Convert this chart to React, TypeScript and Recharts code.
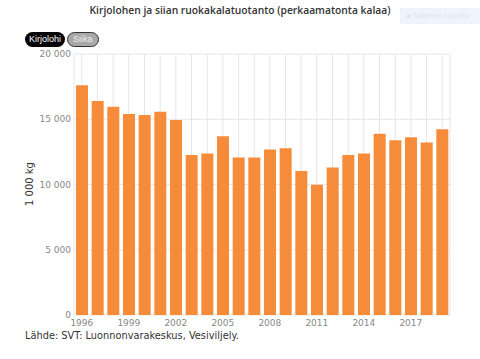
import React from 'react';
import { BarChart, Bar, XAxis, YAxis, CartesianGrid } from 'recharts';

const years = [
  '1996', '1997', '1998', '1999', '2000', '2001', '2002', '2003',
  '2004', '2005', '2006', '2007', '2008', '2009', '2010', '2011',
  '2012', '2013', '2014', '2015', '2016', '2017', '2018', '2019',
];

// Kirjolohi, 1 000 kg
const kirjolohi = [
  17600, 16400, 15950, 15400, 15330, 15580, 14950, 12260,
  12380, 13700, 12070, 12070, 12680, 12780, 11040, 9990,
  11310, 12260, 12380, 13880, 13400, 13630, 13220, 14240,
];

const yTicks = [0, 5000, 10000, 15000, 20000];

const data = years.map((year, i) => ({ year, kirjolohi: kirjolohi[i] }));

const formatNumber = (value: number) =>
  String(value).replace(/\B(?=(\d{3})+(?!\d))/g, ' ');

const font = '"DejaVu Sans", Verdana, sans-serif';

export default function App() {
  return (
    <div style={{ position: 'absolute', left: 0, top: 0, width: 480, height: 359, background: '#fff', fontFamily: font }}>
      {/* otsikko */}
      <div style={{ position: 'absolute', top: 3, left: 0, width: 480, textAlign: 'center', fontFamily: '"Open Sans", sans-serif', fontWeight: 600, fontSize: 10.3, color: '#333' }}>
        Kirjolohen ja siian ruokakalatuotanto (perkaamatonta kalaa)
      </div>

      {/* haalea painike oikealla ylhäällä */}
      <div style={{ position: 'absolute', top: 8, left: 400, width: 80, height: 16, background: '#eef4fb', color: '#dbe6f2', fontSize: 7, lineHeight: '16px', paddingLeft: 6, boxSizing: 'border-box', whiteSpace: 'nowrap', overflow: 'hidden' }}>
        ▪ Tallenna kuvana
      </div>

      {/* sarjavalinta */}
      <div style={{ position: 'absolute', top: 32, left: 25, display: 'flex', alignItems: 'center' }}>
        <div style={{ background: '#000', color: '#fff', fontSize: 9, height: 15, lineHeight: '15px', padding: '0 4px', borderRadius: 8, fontFamily: '"Liberation Sans", Arial, sans-serif' }}>
          Kirjolohi
        </div>
        <div style={{ background: '#a8a8a8', color: '#eee', fontSize: 9, height: 13, lineHeight: '13px', padding: '0 5px', marginLeft: 2, borderRadius: 8, border: '1px solid #333', fontFamily: '"Liberation Sans", Arial, sans-serif' }}>
          Siika
        </div>
      </div>

      {/* y-akselin nimi */}
      <div style={{ position: 'absolute', left: 29, top: 184, transform: 'translate(-50%, -50%) rotate(-90deg)', fontSize: 10, color: '#333', whiteSpace: 'nowrap' }}>
        1 000 kg
      </div>

      <div style={{ position: 'absolute', left: 0, top: 0 }}>
        <BarChart
          width={480}
          height={359}
          data={data}
          margin={{ top: 54, right: 30, bottom: 24, left: 24 }}
        >
          <CartesianGrid stroke="#e6e6e6" strokeWidth={1} />
          <XAxis
            dataKey="year"
            interval={0}
            tickLine={false}
            axisLine={false}
            height={20}
            tick={{ fontSize: 9, fill: '#888', fontFamily: font, dy: -3 }}
            tickFormatter={(v: string, i: number) => (i % 3 === 0 ? v : '')}
          />
          <YAxis
            width={50}
            domain={[0, 20000]}
            ticks={yTicks}
            tickLine={false}
            axisLine={false}
            tick={{ fontSize: 9, fill: '#888', fontFamily: font, dx: 5 }}
            tickFormatter={formatNumber}
          />
          <Bar dataKey="kirjolohi" fill="#f68b3a" barSize={12} isAnimationActive={false} />
        </BarChart>
      </div>

      {/* lähde */}
      <div style={{ position: 'absolute', left: 25, top: 330, fontSize: 9.8, color: '#333', whiteSpace: 'nowrap' }}>
        Lähde: SVT: Luonnonvarakeskus, Vesiviljely.
      </div>
    </div>
  );
}
